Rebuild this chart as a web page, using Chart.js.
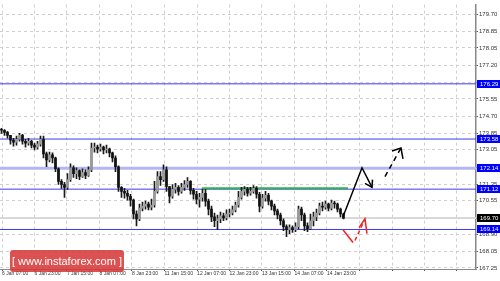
<!DOCTYPE html>
<html>
<head>
<meta charset="utf-8">
<script src="https://cdn.jsdelivr.net/npm/chart.js@4.4.0/dist/chart.umd.min.js"></script>
<style>
  html, body { margin: 0; padding: 0; background: #fff; }
  #c { display: block; }
</style>
</head>
<body>
<canvas id="c" width="500" height="281"></canvas>
<script>
// H1 candles (one entry per drawn bar)
const opens = [174.05,174.01,173.91,173.76,173.52,173.43,173.57,173.76,173.47,173.38,
  173.47,173.28,173.18,173.33,173.57,172.85,172.56,172.80,172.65,172.12,
  171.50,171.35,171.21,171.59,172.17,171.88,172.03,171.74,171.93,171.79,
  172.07,173.14,173.18,173.09,173.18,173.04,173.09,172.90,172.65,172.22,
  171.21,171.01,170.92,170.77,170.58,169.90,169.66,170.19,170.29,170.39,
  170.24,170.34,171.01,171.74,171.59,172.07,171.25,170.77,171.11,171.21,
  171.01,171.21,171.35,171.50,171.06,170.87,170.63,170.72,170.92,170.53,
  170.14,169.76,169.57,169.66,169.81,169.71,169.90,169.95,170.10,170.34,
  170.72,171.01,171.11,170.92,171.01,171.16,170.87,170.29,170.68,170.82,
  170.53,170.29,170.05,169.85,169.57,169.28,169.13,169.23,169.13,169.28,
  170.14,169.85,169.32,169.18,169.57,169.76,169.95,170.29,170.24,170.39,
  170.19,170.44,170.39,170.14,169.90];
const highs = [174.10,174.05,173.96,173.76,173.62,173.72,173.86,173.81,173.57,173.62,
  173.52,173.38,173.47,173.72,173.72,172.94,172.94,172.90,172.70,172.17,
  171.59,171.45,171.88,172.36,172.27,172.17,172.07,172.12,172.07,172.22,
  173.38,173.38,173.28,173.33,173.23,173.28,173.14,172.94,172.75,172.27,
  171.25,171.16,171.06,170.87,170.63,170.05,170.39,170.48,170.53,170.48,
  170.63,171.50,171.98,171.98,172.32,172.22,171.25,171.35,171.40,171.30,
  171.40,171.54,171.69,171.54,171.16,171.01,170.92,171.11,171.11,170.63,
  170.29,169.95,169.85,170.00,169.95,170.10,170.14,170.29,170.48,171.01,
  171.21,171.25,171.21,171.21,171.30,171.25,170.97,170.87,171.01,170.92,
  170.58,170.39,170.14,169.95,169.66,169.37,169.37,169.32,169.47,170.29,
  170.24,169.95,169.47,169.90,170.00,170.14,170.44,170.48,170.53,170.44,
  170.58,170.53,170.44,170.19,169.95];
const lows = [173.86,173.76,173.62,173.33,173.23,173.28,173.47,173.33,173.18,173.28,
  173.14,173.04,173.09,173.23,172.65,172.22,172.46,172.41,171.98,171.35,
  171.16,170.72,171.11,171.50,171.69,171.64,171.59,171.69,171.64,171.74,
  171.98,172.94,172.90,172.99,172.85,172.90,172.70,172.46,171.98,171.01,
  170.72,170.68,170.58,170.29,169.66,169.32,169.57,170.05,170.14,170.10,
  170.10,170.24,170.92,171.30,171.50,171.01,170.44,170.68,170.92,170.82,
  170.92,171.06,171.21,170.87,170.63,170.39,170.24,170.53,170.29,169.85,
  169.52,169.28,169.13,169.47,169.57,169.61,169.76,169.85,170.00,170.24,
  170.63,170.82,170.77,170.82,170.92,170.68,170.00,170.19,170.53,170.34,
  170.10,169.85,169.66,169.37,169.08,168.79,168.94,168.99,169.03,169.18,
  169.57,169.08,169.03,169.13,169.32,169.57,169.85,170.05,170.14,170.05,
  170.10,170.19,170.00,169.76,169.66];
const closes = [174.01,173.91,173.76,173.52,173.43,173.57,173.76,173.47,173.38,173.47,
  173.28,173.18,173.33,173.57,172.85,172.56,172.80,172.65,172.12,171.50,
  171.35,171.21,171.59,172.17,171.88,172.03,171.74,171.93,171.79,172.07,
  173.14,173.18,173.09,173.18,173.04,173.09,172.90,172.65,172.22,171.21,
  171.01,170.92,170.77,170.58,169.90,169.66,170.19,170.29,170.39,170.24,
  170.34,171.01,171.74,171.59,172.07,171.25,170.77,171.11,171.21,171.01,
  171.21,171.35,171.50,171.06,170.87,170.63,170.72,170.92,170.53,170.14,
  169.76,169.57,169.66,169.81,169.71,169.90,169.95,170.10,170.34,170.72,
  171.01,171.11,170.92,171.01,171.16,170.87,170.29,170.68,170.82,170.53,
  170.29,170.05,169.85,169.57,169.28,169.13,169.23,169.13,169.28,170.14,
  169.85,169.32,169.18,169.57,169.76,169.95,170.29,170.24,170.39,170.19,
  170.44,170.39,170.14,169.90,169.70];

// time axis (x unit = one drawn bar)
const timeLabels = ['6 Jan 07:00', '6 Jan 23:00', '7 Jan 15:00', '8 Jan 07:00', '8 Jan 23:00',
  '11 Jan 15:00', '12 Jan 07:00', '12 Jan 23:00', '13 Jan 15:00', '14 Jan 07:00', '14 Jan 23:00'];
const timeTickAt = [0.7, 11.5, 22.3, 33.2, 44.0, 54.8, 65.7, 76.5, 87.3, 98.2, 109.0, 119.8, 130.7, 141.5, 152.3];
const xMax = 158.67;

// price axis
const priceTicks = [179.70, 178.85, 178.05, 177.20, 176.35, 175.55, 174.70, 173.85,
  173.05, 172.20, 171.35, 170.55, 169.70, 168.90, 168.05, 167.25];
const priceMin = 167.20, priceMax = 180.18;

// levels
const levels = [176.29, 173.58, 172.14, 171.12, 169.14];
const lastPrice = 169.70;
const rangeTop = { from: 67.3, to: 116.0, price: 171.17 };

// forecast arrows [bar, price]
const upPath = [[114.33, 169.76], [120.67, 172.17], [124.0, 171.21]];
const upHead = [[121.67, 171.40], [124.0, 171.21], [124.17, 171.59]];
const upNext = [[128.33, 171.74], [133.67, 173.14]];
const upNextHead = [[130.67, 172.99], [133.67, 173.14], [134.33, 172.61]];
const downPath = [[114.33, 169.13], [117.67, 168.50]];
const downNext = [[118.33, 168.60], [121.67, 169.66]];
const downHead = [[119.67, 169.23], [121.67, 169.66], [122.33, 168.94]];

const pts = arr => arr.map(p => ({ x: p[0], y: p[1] }));
const hline = v => [{ x: 0, y: v }, { x: xMax, y: v }];

const wickData = highs.map((h, i) => ({ x: i + 0.5, y: [lows[i], h] }));
const bodyData = opens.map((o, i) => ({ x: i + 0.5, y: [Math.min(o, closes[i]), Math.max(o, closes[i])] }));

function lineSet(data, color, width, dash, order) {
  return {
    type: 'line', data: data, borderColor: color, borderWidth: width,
    borderDash: dash || [], pointRadius: 0, fill: false, tension: 0, order: order
  };
}

const datasets = [
  lineSet(hline(lastPrice), '#d8d8d8', 2, null, 6),
  lineSet(hline(levels[0]), '#3b3bf0', 1, null, 5),
  lineSet(hline(levels[1]), '#3b3bf0', 1, null, 5),
  lineSet(hline(levels[2]), '#b3b6f5', 3, null, 5),
  lineSet(hline(levels[3]), '#3b3bf0', 1, null, 5),
  lineSet(hline(levels[4]), '#3b3bf0', 1, null, 5),
  lineSet([{ x: rangeTop.from, y: rangeTop.price }, { x: rangeTop.to, y: rangeTop.price }], '#2fb34a', 2, null, 4),
  {
    type: 'bar', data: wickData, grouped: false, barThickness: 1,
    backgroundColor: '#1a1a1a', borderWidth: 0, order: 3
  },
  {
    type: 'bar', data: bodyData, grouped: false, barThickness: 2, minBarLength: 1,
    backgroundColor: bodyData.map((d, i) => closes[i] >= opens[i] ? '#9a9a9a' : '#111111'),
    borderWidth: 0, order: 2
  },
  lineSet(pts(upPath), '#000', 1.5, null, 1),
  lineSet(pts(upHead), '#000', 1.5, null, 1),
  lineSet(pts(upNext), '#000', 1.5, [5, 4], 1),
  lineSet(pts(upNextHead), '#000', 1.5, null, 1),
  lineSet(pts(downPath), '#ee2222', 1.5, null, 1),
  lineSet(pts(downNext), '#ee2222', 1.5, [4, 3], 1),
  lineSet(pts(downHead), '#ee2222', 1.5, null, 1)
];

// price boxes on the axis + site watermark
const overlay = {
  id: 'overlay',
  afterDraw(chart) {
    const ctx = chart.ctx;
    const y = chart.scales.y;
    const left = chart.chartArea.right + 1;
    ctx.save();
    ctx.font = '6px "Liberation Sans", Arial, sans-serif';
    ctx.textBaseline = 'middle';
    const box = (v, fill) => {
      const py = Math.round(y.getPixelForValue(v));
      ctx.fillStyle = fill;
      ctx.fillRect(left, py - 4, 500 - left, 8);
      ctx.fillStyle = '#fff';
      ctx.fillText(v.toFixed(2), left + 3, py + 0.5);
    };
    levels.forEach(v => box(v, '#0000ff'));
    box(lastPrice, '#000');

    // watermark
    ctx.fillStyle = 'rgba(214, 52, 52, 0.85)';
    ctx.beginPath();
    ctx.roundRect(10, 250, 114, 22, 3);
    ctx.fill();
    ctx.fillStyle = '#fff';
    ctx.font = '11px "Liberation Sans", Arial, sans-serif';
    ctx.textBaseline = 'middle';
    ctx.textAlign = 'center';
    ctx.fillText('[ www.instaforex.com ]', 67, 262);
    ctx.restore();
  }
};

new Chart(document.getElementById('c'), {
  type: 'bar',
  data: { datasets: datasets },
  options: {
    responsive: false,
    animation: false,
    devicePixelRatio: 1,
    layout: { padding: 0 },
    plugins: { legend: { display: false }, tooltip: { enabled: false } },
    scales: {
      x: {
        type: 'linear', min: 0, max: xMax, position: 'bottom', offset: false,
        afterBuildTicks: s => { s.ticks = timeTickAt.map(v => ({ value: v })); },
        afterFit: s => { s.height = 12; },
        grid: { offset: false, color: '#cfcfcf', lineWidth: 1, tickLength: 2, tickColor: '#555', tickBorderDash: [] },
        border: { display: true, color: '#888', width: 1, dash: [3, 3] },
        ticks: {
          autoSkip: false, maxRotation: 0, align: 'start', padding: 0,
          color: '#333', font: { family: '"Liberation Sans", Arial', size: 5 },
          callback: (v, i) => timeLabels[i] || ''
        }
      },
      y: {
        type: 'linear', min: priceMin, max: priceMax, position: 'right',
        afterBuildTicks: s => { s.ticks = priceTicks.map(v => ({ value: v })); },
        afterFit: s => { s.width = 24; },
        grid: { color: '#cfcfcf', lineWidth: 1, tickLength: 2, tickColor: '#555', tickBorderDash: [] },
        border: { display: true, color: '#888', width: 1.5, dash: [3, 3] },
        ticks: {
          padding: 1, color: '#333', font: { family: '"Liberation Sans", Arial', size: 6 },
          callback: v => v.toFixed(2)
        }
      }
    }
  },
  plugins: [overlay]
});
</script>
</body>
</html>
